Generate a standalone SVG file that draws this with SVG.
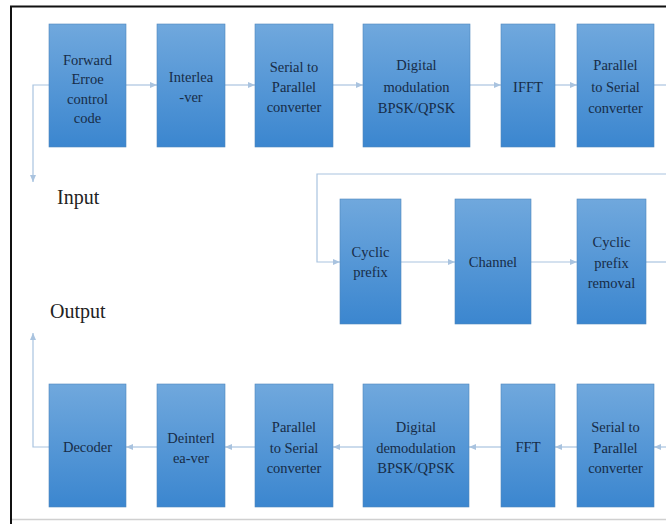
<svg xmlns="http://www.w3.org/2000/svg" width="666" height="524" viewBox="0 0 666 524">
<style>
.box{fill:url(#g);stroke:#4f86bd;stroke-width:0.6}
.t{font-family:'Liberation Serif','Times New Roman','DejaVu Serif',serif;font-size:14.5px;fill:#172c47;text-anchor:middle}
.lbl{font-family:'Liberation Serif','Times New Roman','DejaVu Serif',serif;font-size:20px;fill:#222}
.c{fill:none;stroke:#a9c3df;stroke-width:1.2}
.ca{fill:none;stroke:#a9c3df;stroke-width:1.2;marker-end:url(#ah)}
</style>
<defs>
<linearGradient id="g" x1="0" y1="0" x2="0" y2="1">
<stop offset="0" stop-color="#70a8dd"/>
<stop offset="1" stop-color="#3b86cf"/>
</linearGradient>
<marker id="ah" markerWidth="8" markerHeight="8" refX="7" refY="4" orient="auto" markerUnits="userSpaceOnUse">
<path d="M0,1 L7,4 L0,7 Z" fill="#a9c3df"/>
</marker>
</defs>
<rect x="0" y="0" width="666" height="524" fill="#fff"/>
<path d="M10,6.5 H666 M11,6 V524" stroke="#111" stroke-width="2" fill="none"/>
<path d="M12,519.5 H666" stroke="#d0d0d0" stroke-width="1.5" fill="none"/>
<g id="connectors">
<polyline class="ca" points="49,85 33,85 33,182"/>
<line class="ca" x1="126" y1="85" x2="157" y2="85"/>
<line class="ca" x1="225" y1="85" x2="255" y2="85"/>
<line class="ca" x1="333" y1="85" x2="363" y2="85"/>
<line class="ca" x1="470" y1="85" x2="501" y2="85"/>
<line class="ca" x1="555" y1="85" x2="577" y2="85"/>
<line class="c" x1="654" y1="85" x2="666" y2="85"/>
<polyline class="ca" points="666,174 317,174 317,262 340,262"/>
<line class="ca" x1="401" y1="262" x2="455" y2="262"/>
<line class="ca" x1="531" y1="262" x2="577" y2="262"/>
<line class="c" x1="646" y1="262" x2="666" y2="262"/>
<line class="ca" x1="666" y1="447" x2="654" y2="447"/>
<line class="ca" x1="577" y1="447" x2="555" y2="447"/>
<line class="ca" x1="501" y1="447" x2="469" y2="447"/>
<line class="ca" x1="363" y1="447" x2="333" y2="447"/>
<line class="ca" x1="255" y1="447" x2="225" y2="447"/>
<line class="ca" x1="157" y1="447" x2="126" y2="447"/>
<polyline class="ca" points="49,447 33,447 33,333"/>
</g>
<g id="fec"><rect class="box" x="49" y="24" width="77" height="123"/>
<text class="t" x="87.5" y="65">Forward</text><text class="t" x="87.5" y="84">Erroe</text><text class="t" x="87.5" y="104">control</text><text class="t" x="87.5" y="123">code</text></g>
<g id="interleaver"><rect class="box" x="157" y="24" width="68" height="123"/>
<text class="t" x="191" y="82">Interlea</text><text class="t" x="191" y="102">-ver</text></g>
<g id="s2p1"><rect class="box" x="255" y="24" width="78" height="123"/>
<text class="t" x="294" y="72">Serial to</text><text class="t" x="294" y="92">Parallel</text><text class="t" x="294" y="112">converter</text></g>
<g id="mod"><rect class="box" x="363" y="24" width="107" height="123"/>
<text class="t" x="416.5" y="70">Digital</text><text class="t" x="416.5" y="92">modulation</text><text class="t" x="416.5" y="113">BPSK/QPSK</text></g>
<g id="ifft"><rect class="box" x="501" y="24" width="54" height="123"/>
<text class="t" x="528" y="92">IFFT</text></g>
<g id="p2s1"><rect class="box" x="577" y="24" width="77" height="123"/>
<text class="t" x="615.5" y="70">Parallel</text><text class="t" x="615.5" y="92">to Serial</text><text class="t" x="615.5" y="113">converter</text></g>
<g id="input"><text class="lbl" x="57" y="204">Input</text></g>
<g id="output"><text class="lbl" x="50" y="318">Output</text></g>
<g id="cp"><rect class="box" x="340" y="199" width="61" height="125"/>
<text class="t" x="370.5" y="257">Cyclic</text><text class="t" x="370.5" y="277">prefix</text></g>
<g id="channel"><rect class="box" x="455" y="199" width="76" height="125"/>
<text class="t" x="493" y="267">Channel</text></g>
<g id="cpr"><rect class="box" x="577" y="199" width="69" height="125"/>
<text class="t" x="611.5" y="247">Cyclic</text><text class="t" x="611.5" y="268">prefix</text><text class="t" x="611.5" y="288">removal</text></g>
<g id="decoder"><rect class="box" x="49" y="384" width="77" height="123"/>
<text class="t" x="87.5" y="452">Decoder</text></g>
<g id="deinterleaver"><rect class="box" x="157" y="384" width="68" height="123"/>
<text class="t" x="191" y="443">Deinterl</text><text class="t" x="191" y="463">ea-ver</text></g>
<g id="p2s2"><rect class="box" x="255" y="384" width="78" height="123"/>
<text class="t" x="294" y="432">Parallel</text><text class="t" x="294" y="453">to Serial</text><text class="t" x="294" y="473">converter</text></g>
<g id="demod"><rect class="box" x="363" y="384" width="106" height="123"/>
<text class="t" x="416" y="432">Digital</text><text class="t" x="416" y="453">demodulation</text><text class="t" x="416" y="473">BPSK/QPSK</text></g>
<g id="fft"><rect class="box" x="501" y="384" width="54" height="123"/>
<text class="t" x="528" y="452">FFT</text></g>
<g id="s2p2"><rect class="box" x="577" y="384" width="77" height="123"/>
<text class="t" x="615.5" y="432">Serial to</text><text class="t" x="615.5" y="453">Parallel</text><text class="t" x="615.5" y="473">converter</text></g>
</svg>
